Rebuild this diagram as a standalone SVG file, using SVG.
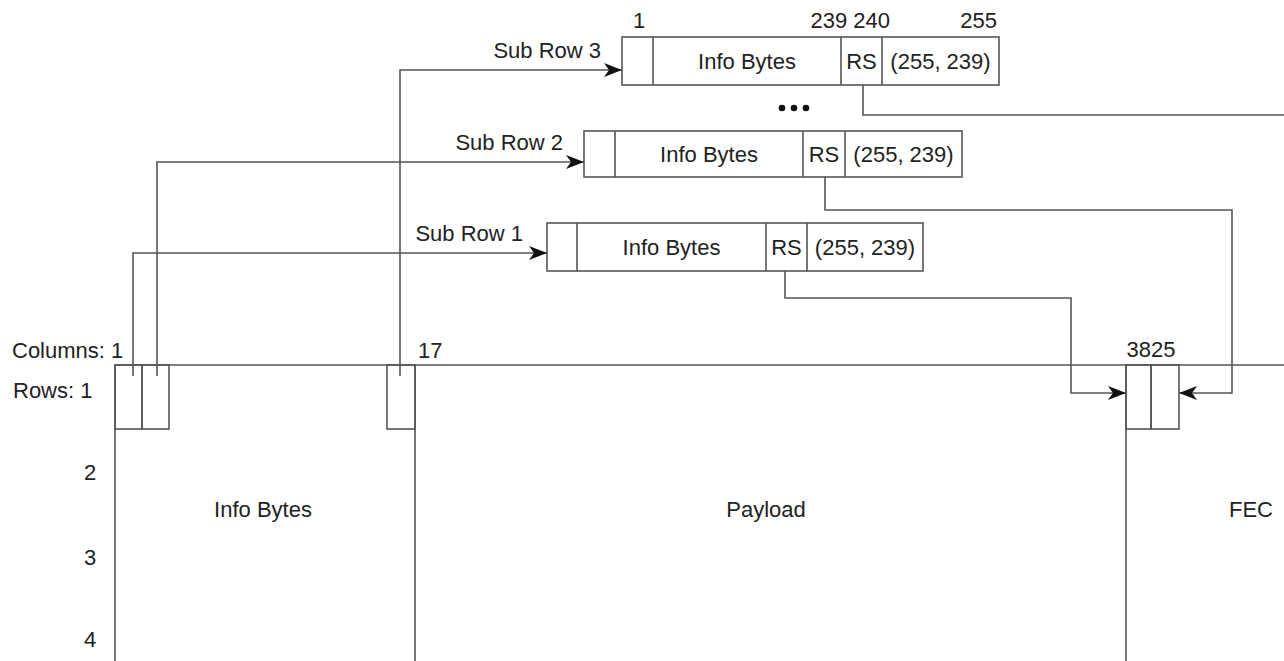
<svg xmlns="http://www.w3.org/2000/svg" width="1284" height="661" viewBox="0 0 1284 661">
<style>
text{font-family:"Liberation Sans",Arial,sans-serif;font-size:22px;fill:#222}
.m{text-anchor:middle}
.e{text-anchor:end}
.b{fill:none;stroke:#555;stroke-width:1.6}
.c{fill:none;stroke:#555;stroke-width:1.6}
</style>
<defs>
<marker id="ah" markerUnits="userSpaceOnUse" markerWidth="22" markerHeight="18" viewBox="-20 -9 22 18" refX="0" refY="0" orient="auto">
<path d="M-18,-7 L0,0 L-18,7 L-13,0 Z" fill="#111"/>
</marker>
</defs>
<rect width="1284" height="661" fill="#fff"/>

<g id="frame">
<line class="b" x1="115" y1="365" x2="1284" y2="365"/>
<line class="b" x1="115" y1="365" x2="115" y2="661"/>
<line class="b" x1="415" y1="365" x2="415" y2="661"/>
<line class="b" x1="1126" y1="365" x2="1126" y2="661"/>
<text x="12" y="358">Columns: 1</text>
<text x="418" y="358">17</text>
<text x="1151" y="357" class="m">3825</text>
<text x="13" y="398">Rows: 1</text>
<text x="90" y="480" class="m">2</text>
<text x="90" y="565" class="m">3</text>
<text x="90" y="647" class="m">4</text>
<text x="263" y="517" class="m">Info Bytes</text>
<text x="766" y="517" class="m">Payload</text>
<text x="1251" y="517" class="m">FEC</text>
</g>

<g id="cells-left">
<rect class="b" x="115" y="365" width="27" height="64"/>
<rect class="b" x="142" y="365" width="27" height="64"/>
</g>
<g id="cell-17">
<rect class="b" x="387" y="365" width="28" height="64"/>
</g>
<g id="cells-fec">
<rect class="b" x="1126" y="365" width="25" height="64"/>
<rect class="b" x="1151" y="365" width="28" height="64"/>
</g>

<g id="subrow3">
<rect class="b" x="622" y="37" width="377" height="48"/>
<line class="b" x1="653" y1="37" x2="653" y2="85"/>
<line class="b" x1="841" y1="37" x2="841" y2="85"/>
<line class="b" x1="882" y1="37" x2="882" y2="85"/>
<text x="601" y="58" class="e">Sub Row 3</text>
<text x="747" y="69" class="m">Info Bytes</text>
<text x="861.5" y="69" class="m">RS</text>
<text x="940.5" y="69" class="m">(255, 239)</text>
<text x="639" y="28" class="m">1</text>
<text x="890" y="28" class="e">239 240</text>
<text x="997" y="28" class="e">255</text>
</g>

<g id="ellipsis">
<circle cx="782" cy="108" r="3.3" fill="#111"/>
<circle cx="794" cy="108" r="3.3" fill="#111"/>
<circle cx="806" cy="108" r="3.3" fill="#111"/>
</g>

<g id="subrow2">
<rect class="b" x="584" y="131" width="378" height="46"/>
<line class="b" x1="615" y1="131" x2="615" y2="177"/>
<line class="b" x1="803" y1="131" x2="803" y2="177"/>
<line class="b" x1="845" y1="131" x2="845" y2="177"/>
<text x="563" y="150" class="e">Sub Row 2</text>
<text x="709" y="162" class="m">Info Bytes</text>
<text x="824" y="162" class="m">RS</text>
<text x="903.5" y="162" class="m">(255, 239)</text>
</g>

<g id="subrow1">
<rect class="b" x="547" y="223" width="376" height="48"/>
<line class="b" x1="577" y1="223" x2="577" y2="271"/>
<line class="b" x1="766" y1="223" x2="766" y2="271"/>
<line class="b" x1="807" y1="223" x2="807" y2="271"/>
<text x="523" y="241" class="e">Sub Row 1</text>
<text x="671.5" y="255" class="m">Info Bytes</text>
<text x="786.5" y="255" class="m">RS</text>
<text x="865" y="255" class="m">(255, 239)</text>
</g>

<g id="connectors">
<polyline class="c" points="133,376 133,253 547,253" marker-end="url(#ah)"/>
<polyline class="c" points="157,376 157,162 584,162" marker-end="url(#ah)"/>
<polyline class="c" points="400,376 400,70 622,70" marker-end="url(#ah)"/>
<polyline class="c" points="785,271 785,298 1071,298 1071,393 1126,393" marker-end="url(#ah)"/>
<polyline class="c" points="825,177 825,210 1232,210 1232,393 1179,393" marker-end="url(#ah)"/>
<polyline class="c" points="863,85 863,115 1284,115"/>
</g>
</svg>
